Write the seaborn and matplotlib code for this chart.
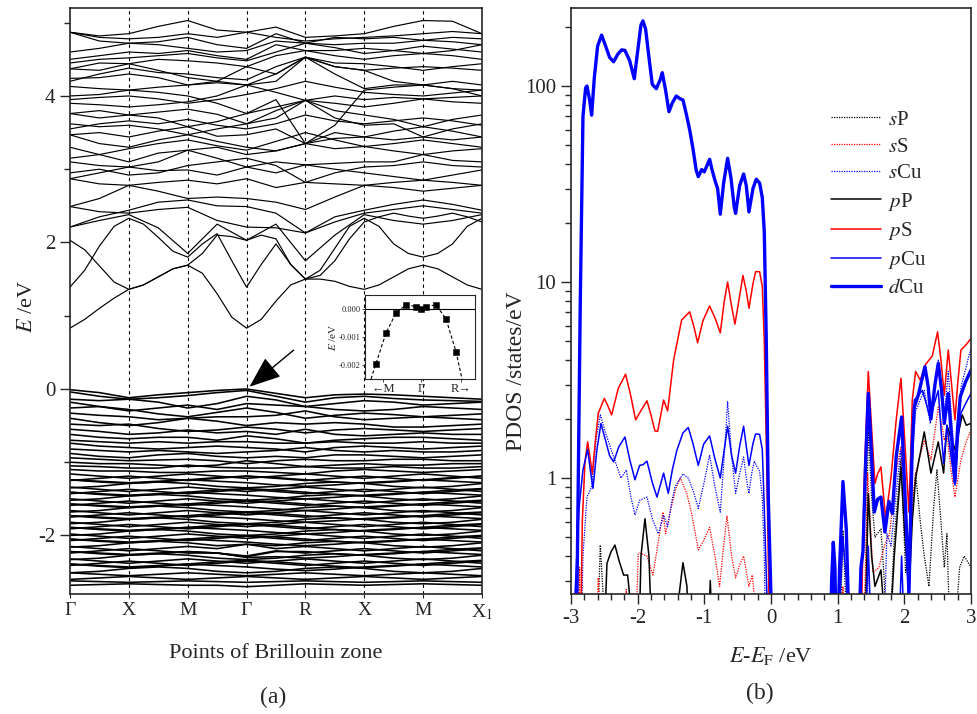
import numpy as np
import pandas as pd
import matplotlib
matplotlib.use("Agg")
import matplotlib.pyplot as plt
import seaborn as sns

sns.set_style("ticks")
plt.rcParams["font.family"] = ["Liberation Serif", "DejaVu Serif"]
plt.rcParams["mathtext.fontset"] = "stix"
plt.rcParams["axes.unicode_minus"] = False

# ---------------- band structure (a) ----------------
k_labels = ["Γ", "X", "M", "Γ", "R", "X", "M", "X$_1$"]
k_path = [0, 0.5, 1, 1.5, 2, 2.5, 3, 3.5, 4, 4.5, 5, 5.5, 6, 6.5, 7]
k_fine = [0, 0.25, 0.5, 0.75, 1, 1.25, 1.5, 1.75, 2, 2.25, 2.5, 2.75, 3, 3.25, 3.5, 3.75,
          4, 4.25, 4.5, 4.75, 5, 5.25, 5.5, 5.75, 6, 6.25, 6.5, 6.75, 7]

# lowest conduction bands, read on the finer k grid
low_conduction_bands = [
    [0.83, 0.95, 1.10, 1.24, 1.36, 1.42, 1.53, 1.64, 1.69, 1.58, 1.30, 0.98, 0.83, 0.95, 1.20,
     1.42, 1.50, 1.50, 1.47, 1.40, 1.36, 1.42, 1.53, 1.64, 1.69, 1.64, 1.53, 1.42, 1.36],
    [1.39, 1.62, 1.95, 2.22, 2.33, 2.25, 2.07, 1.88, 1.80, 1.98, 2.12, 1.75, 1.39, 1.70, 1.98,
     1.70, 1.50, 1.62, 1.92, 2.22, 2.33, 2.22, 1.98, 1.85, 1.80, 1.85, 1.98, 2.22, 2.33],
    [2.03, 1.90, 1.68, 1.46, 1.36, 1.42, 1.53, 1.64, 1.69, 1.85, 2.10, 2.08, 2.03, 2.10, 2.05,
     1.70, 1.50, 1.55, 1.75, 2.05, 2.28, 2.35, 2.40, 2.36, 2.33, 2.36, 2.40, 2.35, 2.28],
]

# energies (eV) read at the 15 k positions along Γ-X-M-Γ-R-X-M-X1
conduction_bands = [
    [2.21, 2.30, 2.38, 2.20, 1.85, 2.25, 2.03, 2.25, 1.75, 2.10, 2.38, 2.30, 2.25, 2.30, 2.38],
    [2.49, 2.42, 2.40, 2.45, 2.48, 2.30, 2.21, 2.20, 2.13, 2.28, 2.40, 2.45, 2.50, 2.45, 2.40],
    [2.21, 2.35, 2.44, 2.55, 2.58, 2.50, 2.49, 2.40, 2.13, 2.35, 2.44, 2.52, 2.58, 2.52, 2.44],
    [2.49, 2.60, 2.78, 2.70, 2.60, 2.62, 2.60, 2.55, 2.45, 2.62, 2.78, 2.75, 2.70, 2.74, 2.78],
    [2.87, 2.80, 2.78, 2.82, 2.85, 2.80, 2.87, 2.75, 2.82, 2.80, 2.78, 2.82, 2.85, 2.82, 2.78],
    [2.95, 3.00, 2.92, 2.95, 3.05, 3.10, 3.15, 3.05, 2.82, 2.95, 3.03, 3.05, 3.10, 3.05, 3.03],
    [2.87, 2.95, 3.03, 2.98, 2.99, 2.92, 3.03, 2.95, 3.06, 3.00, 2.95, 2.90, 2.85, 2.92, 2.99],
    [3.10, 3.05, 3.03, 3.10, 3.26, 3.15, 3.03, 3.10, 3.06, 3.08, 3.10, 3.10, 3.20, 3.12, 3.10],
    [3.15, 3.20, 3.28, 3.35, 3.40, 3.32, 3.26, 3.38, 3.50, 3.40, 3.31, 3.35, 3.40, 3.35, 3.30],
    [3.30, 3.20, 3.10, 3.22, 3.26, 3.30, 3.20, 3.25, 3.35, 3.28, 3.31, 3.25, 3.20, 3.25, 3.28],
    [3.47, 3.35, 3.30, 3.40, 3.47, 3.38, 3.30, 3.25, 3.35, 3.42, 3.44, 3.40, 3.44, 3.40, 3.44],
    [3.47, 3.50, 3.44, 3.52, 3.58, 3.45, 3.47, 3.55, 3.35, 3.50, 3.44, 3.52, 3.58, 3.52, 3.44],
    [3.55, 3.62, 3.66, 3.62, 3.68, 3.60, 3.55, 3.62, 3.74, 3.66, 3.62, 3.66, 3.70, 3.66, 3.60],
    [3.62, 3.58, 3.60, 3.55, 3.47, 3.55, 3.62, 3.70, 3.94, 3.70, 3.60, 3.62, 3.44, 3.55, 3.62],
    [3.76, 3.70, 3.74, 3.70, 3.58, 3.65, 3.76, 3.85, 3.94, 3.80, 3.74, 3.68, 3.58, 3.68, 3.74],
    [3.76, 3.80, 3.74, 3.78, 3.82, 3.75, 3.62, 3.80, 3.94, 3.90, 3.85, 3.90, 3.96, 3.92, 3.90],
    [3.90, 3.88, 3.85, 3.88, 3.92, 4.00, 4.15, 4.05, 3.94, 4.00, 3.95, 3.98, 3.96, 3.98, 4.00],
    [3.95, 3.98, 4.00, 3.96, 3.90, 3.95, 4.02, 4.10, 4.20, 4.12, 4.05, 4.02, 4.00, 4.04, 4.08],
    [4.00, 4.02, 4.08, 4.05, 4.00, 3.90, 3.76, 3.95, 3.35, 3.60, 4.08, 4.12, 4.15, 4.10, 4.08],
    [4.13, 4.10, 4.08, 4.12, 4.15, 4.18, 4.15, 4.20, 4.53, 4.40, 4.35, 4.20, 4.15, 4.20, 4.15],
    [4.20, 4.30, 4.38, 4.32, 4.30, 4.25, 4.22, 4.40, 4.53, 4.45, 4.44, 4.40, 4.35, 4.40, 4.44],
    [4.24, 4.25, 4.30, 4.25, 4.15, 4.20, 4.15, 4.30, 4.53, 4.30, 4.10, 4.15, 4.15, 4.10, 4.00],
    [4.37, 4.35, 4.44, 4.35, 4.25, 4.20, 4.40, 4.30, 4.53, 4.40, 4.35, 4.38, 4.40, 4.38, 4.35],
    [4.37, 4.45, 4.44, 4.50, 4.48, 4.45, 4.40, 4.55, 4.62, 4.55, 4.50, 4.55, 4.58, 4.55, 4.50],
    [4.45, 4.50, 4.52, 4.55, 4.58, 4.52, 4.48, 4.60, 4.72, 4.66, 4.58, 4.62, 4.68, 4.64, 4.60],
    [4.50, 4.55, 4.60, 4.58, 4.62, 4.55, 4.50, 4.70, 4.62, 4.62, 4.65, 4.62, 4.58, 4.62, 4.70],
    [4.60, 4.65, 4.72, 4.70, 4.65, 4.60, 4.62, 4.75, 4.72, 4.70, 4.72, 4.72, 4.76, 4.74, 4.70],
    [4.87, 4.75, 4.72, 4.74, 4.80, 4.70, 4.65, 4.85, 4.72, 4.80, 4.78, 4.80, 4.76, 4.80, 4.78],
    [4.87, 4.82, 4.85, 4.95, 5.03, 4.90, 4.87, 4.94, 4.80, 4.82, 4.85, 4.95, 5.03, 5.02, 4.85],
    [4.87, 4.80, 4.78, 4.80, 4.85, 4.80, 4.87, 4.80, 4.75, 4.78, 4.80, 4.82, 4.85, 4.88, 4.85],
]

valence_bands = [
    [-0.01, -0.05, -0.12, -0.08, -0.05, -0.02, 0.00, -0.06, -0.12, -0.08, -0.07, -0.08, -0.10, -0.12, -0.14],
    [-0.04, -0.10, -0.14, -0.12, -0.09, -0.05, -0.02, -0.10, -0.18, -0.12, -0.10, -0.13, -0.15, -0.16, -0.17],
    [-0.14, -0.16, -0.14, -0.18, -0.26, -0.20, -0.10, -0.15, -0.24, -0.20, -0.16, -0.18, -0.22, -0.20, -0.18],
    [-0.18, -0.24, -0.30, -0.26, -0.22, -0.28, -0.20, -0.22, -0.24, -0.28, -0.30, -0.28, -0.24, -0.26, -0.28],
    [-0.26, -0.24, -0.28, -0.34, -0.38, -0.32, -0.26, -0.32, -0.40, -0.36, -0.33, -0.35, -0.38, -0.36, -0.34],
    [-0.33, -0.36, -0.38, -0.42, -0.40, -0.38, -0.38, -0.36, -0.30, -0.38, -0.42, -0.40, -0.38, -0.40, -0.42],
    [-0.40, -0.46, -0.50, -0.46, -0.40, -0.44, -0.50, -0.46, -0.48, -0.46, -0.48, -0.52, -0.52, -0.50, -0.48],
    [-0.48, -0.50, -0.48, -0.54, -0.58, -0.56, -0.52, -0.55, -0.60, -0.56, -0.54, -0.56, -0.58, -0.56, -0.54],
    [-0.55, -0.58, -0.62, -0.60, -0.56, -0.60, -0.58, -0.62, -0.55, -0.62, -0.64, -0.62, -0.60, -0.62, -0.62],
    [-0.62, -0.66, -0.68, -0.66, -0.66, -0.70, -0.64, -0.68, -0.74, -0.70, -0.68, -0.66, -0.66, -0.68, -0.70],
    [-0.70, -0.72, -0.74, -0.72, -0.74, -0.72, -0.72, -0.74, -0.74, -0.72, -0.74, -0.74, -0.72, -0.74, -0.74],
    [-0.74, -0.78, -0.80, -0.82, -0.80, -0.78, -0.80, -0.82, -0.86, -0.80, -0.78, -0.80, -0.82, -0.80, -0.78],
    [-0.82, -0.84, -0.86, -0.84, -0.86, -0.88, -0.86, -0.84, -0.80, -0.84, -0.86, -0.84, -0.86, -0.86, -0.84],
    [-0.88, -0.92, -0.94, -0.90, -0.88, -0.92, -0.94, -0.92, -0.94, -0.90, -0.90, -0.92, -0.94, -0.92, -0.90],
    [-0.94, -0.96, -0.98, -0.97, -0.96, -0.98, -1.02, -0.98, -0.96, -0.98, -0.98, -0.96, -0.96, -0.98, -0.98],
    [-1.00, -1.02, -1.02, -1.04, -1.06, -1.04, -0.98, -1.02, -1.06, -1.04, -1.02, -1.04, -1.04, -1.02, -1.02],
    [-1.05, -1.06, -1.08, -1.08, -1.04, -1.07, -1.08, -1.08, -1.06, -1.08, -1.08, -1.06, -1.08, -1.08, -1.06],
    [-1.10, -1.12, -1.12, -1.14, -1.14, -1.12, -1.12, -1.14, -1.16, -1.12, -1.10, -1.12, -1.14, -1.12, -1.10],
    # dense part of the valence band
    [-1.16, -1.19, -1.22, -1.19, -1.16, -1.19, -1.22, -1.19, -1.16, -1.19, -1.22, -1.19, -1.16, -1.19, -1.22],
    [-1.25, -1.22, -1.19, -1.22, -1.25, -1.22, -1.19, -1.22, -1.25, -1.22, -1.19, -1.22, -1.25, -1.22, -1.19],
    [-1.24, -1.27, -1.29, -1.27, -1.24, -1.21, -1.19, -1.21, -1.24, -1.27, -1.29, -1.27, -1.24, -1.21, -1.19],
    [-1.24, -1.26, -1.28, -1.26, -1.24, -1.26, -1.28, -1.31, -1.33, -1.31, -1.28, -1.26, -1.24, -1.26, -1.28],
    [-1.35, -1.33, -1.29, -1.27, -1.29, -1.33, -1.35, -1.33, -1.29, -1.27, -1.29, -1.33, -1.35, -1.33, -1.29],
    [-1.34, -1.37, -1.40, -1.37, -1.34, -1.37, -1.40, -1.37, -1.34, -1.37, -1.40, -1.37, -1.34, -1.37, -1.40],
    [-1.43, -1.40, -1.37, -1.40, -1.43, -1.40, -1.37, -1.40, -1.43, -1.40, -1.37, -1.40, -1.43, -1.40, -1.37],
    [-1.41, -1.44, -1.46, -1.44, -1.41, -1.38, -1.36, -1.38, -1.41, -1.44, -1.46, -1.44, -1.41, -1.38, -1.36],
    [-1.41, -1.43, -1.45, -1.43, -1.41, -1.43, -1.45, -1.48, -1.50, -1.48, -1.45, -1.43, -1.41, -1.43, -1.45],
    [-1.52, -1.50, -1.46, -1.44, -1.46, -1.50, -1.52, -1.50, -1.46, -1.44, -1.46, -1.50, -1.52, -1.50, -1.46],
    [-1.50, -1.53, -1.56, -1.53, -1.50, -1.53, -1.56, -1.53, -1.50, -1.53, -1.56, -1.53, -1.50, -1.53, -1.56],
    [-1.59, -1.56, -1.53, -1.56, -1.59, -1.56, -1.53, -1.56, -1.59, -1.56, -1.53, -1.56, -1.59, -1.56, -1.53],
    [-1.57, -1.60, -1.62, -1.60, -1.57, -1.54, -1.52, -1.54, -1.57, -1.60, -1.62, -1.60, -1.57, -1.54, -1.52],
    [-1.57, -1.59, -1.61, -1.59, -1.57, -1.59, -1.61, -1.64, -1.66, -1.64, -1.61, -1.59, -1.57, -1.59, -1.61],
    [-1.68, -1.66, -1.62, -1.60, -1.62, -1.66, -1.68, -1.66, -1.62, -1.60, -1.62, -1.66, -1.68, -1.66, -1.62],
    [-1.66, -1.69, -1.72, -1.69, -1.66, -1.69, -1.72, -1.69, -1.66, -1.69, -1.72, -1.69, -1.66, -1.69, -1.72],
    [-1.75, -1.72, -1.69, -1.72, -1.75, -1.72, -1.69, -1.72, -1.75, -1.72, -1.69, -1.72, -1.75, -1.72, -1.69],
    [-1.73, -1.76, -1.78, -1.76, -1.73, -1.70, -1.68, -1.70, -1.73, -1.76, -1.78, -1.76, -1.73, -1.70, -1.68],
    [-1.73, -1.75, -1.77, -1.75, -1.73, -1.75, -1.77, -1.80, -1.82, -1.80, -1.77, -1.75, -1.73, -1.75, -1.77],
    [-1.84, -1.82, -1.78, -1.76, -1.78, -1.82, -1.84, -1.82, -1.78, -1.76, -1.78, -1.82, -1.84, -1.82, -1.78],
    [-1.82, -1.85, -1.88, -1.85, -1.82, -1.85, -1.88, -1.85, -1.82, -1.85, -1.88, -1.85, -1.82, -1.85, -1.88],
    [-1.91, -1.88, -1.85, -1.88, -1.91, -1.88, -1.85, -1.88, -1.91, -1.88, -1.85, -1.88, -1.91, -1.88, -1.85],
    [-1.89, -1.92, -1.94, -1.92, -1.89, -1.86, -1.84, -1.86, -1.89, -1.92, -1.94, -1.92, -1.89, -1.86, -1.84],
    [-1.89, -1.91, -1.93, -1.91, -1.89, -1.91, -1.93, -1.96, -1.98, -1.96, -1.93, -1.91, -1.89, -1.91, -1.93],
    [-2.00, -1.98, -1.94, -1.92, -1.94, -1.98, -2.00, -1.98, -1.94, -1.92, -1.94, -1.98, -2.00, -1.98, -1.94],
    [-1.98, -2.01, -2.04, -2.01, -1.98, -2.01, -2.04, -2.01, -1.98, -2.01, -2.04, -2.01, -1.98, -2.01, -2.04],
    [-2.07, -2.04, -2.01, -2.04, -2.07, -2.04, -2.01, -2.04, -2.07, -2.04, -2.01, -2.04, -2.07, -2.04, -2.01],
    [-2.05, -2.08, -2.10, -2.08, -2.05, -2.02, -2.00, -2.02, -2.05, -2.08, -2.10, -2.08, -2.05, -2.02, -2.00],
    [-2.05, -2.07, -2.09, -2.07, -2.05, -2.07, -2.09, -2.12, -2.14, -2.12, -2.09, -2.07, -2.05, -2.07, -2.09],
    [-2.16, -2.14, -2.10, -2.08, -2.10, -2.14, -2.12, -2.14, -2.10, -2.08, -2.10, -2.14, -2.16, -2.14, -2.10],
    [-2.15, -2.18, -2.21, -2.18, -2.15, -2.18, -2.12, -2.18, -2.15, -2.18, -2.21, -2.18, -2.15, -2.18, -2.21],
    [-2.24, -2.21, -2.18, -2.21, -2.24, -2.24, -2.28, -2.21, -2.24, -2.21, -2.18, -2.21, -2.24, -2.21, -2.18],
    [-2.22, -2.25, -2.27, -2.25, -2.22, -2.24, -2.29, -2.22, -2.22, -2.25, -2.27, -2.25, -2.22, -2.19, -2.17],
    [-2.22, -2.24, -2.26, -2.24, -2.22, -2.24, -2.30, -2.29, -2.31, -2.29, -2.26, -2.24, -2.22, -2.24, -2.26],
    [-2.33, -2.31, -2.27, -2.25, -2.27, -2.31, -2.33, -2.31, -2.27, -2.25, -2.27, -2.31, -2.33, -2.31, -2.27],
    [-2.32, -2.35, -2.38, -2.35, -2.32, -2.35, -2.38, -2.35, -2.32, -2.35, -2.38, -2.35, -2.32, -2.35, -2.38],
    [-2.41, -2.38, -2.35, -2.38, -2.41, -2.38, -2.35, -2.38, -2.41, -2.38, -2.35, -2.38, -2.41, -2.38, -2.35],
    [-2.39, -2.42, -2.44, -2.42, -2.39, -2.36, -2.34, -2.36, -2.39, -2.42, -2.44, -2.42, -2.39, -2.36, -2.34],
    [-2.39, -2.41, -2.43, -2.41, -2.39, -2.41, -2.43, -2.46, -2.48, -2.46, -2.43, -2.41, -2.39, -2.41, -2.43],
    [-2.51, -2.49, -2.45, -2.43, -2.45, -2.49, -2.51, -2.49, -2.45, -2.43, -2.45, -2.49, -2.51, -2.49, -2.45],
    [-2.51, -2.53, -2.55, -2.53, -2.51, -2.53, -2.55, -2.53, -2.51, -2.53, -2.55, -2.53, -2.51, -2.53, -2.55],
    [-2.60, -2.58, -2.56, -2.58, -2.60, -2.58, -2.56, -2.58, -2.60, -2.58, -2.56, -2.58, -2.60, -2.58, -2.56],
    [-2.62, -2.63, -2.64, -2.63, -2.62, -2.63, -2.64, -2.63, -2.62, -2.63, -2.64, -2.63, -2.62, -2.63, -2.64],
    [-2.68, -2.67, -2.66, -2.67, -2.68, -2.68, -2.70, -2.68, -2.66, -2.67, -2.68, -2.67, -2.66, -2.67, -2.68],
]

# inset: top of valence band around Γ
inset_k = [-4.5, -3.5, -2.5, -1.5, -0.5, 0.0, 0.5, 1.5, 2.5, 3.5]
inset_E = [-0.00195, -0.00086, -0.00015, 0.00014, 0.00008, -0.00002, 0.00008, 0.00014, -0.00036, -0.00153]
inset_line_k = [-5.0] + inset_k + [4.1]
inset_line_E = [-0.0025] + inset_E + [-0.0025]

# ---------------- PDOS (b) ----------------
# 0.1 marks values that fall below the bottom of the log axis
sP_E = [-3.0, -2.62, -2.56, -2.50, -2.47, 1.02, 1.08, 1.13, 1.16, 1.40, 1.46, 1.51, 1.56, 1.65, 1.70, 1.75, 1.85,
        1.95, 2.02, 2.08, 2.17, 2.24, 2.30, 2.37, 2.44, 2.49, 2.55, 2.60, 2.64, 2.70, 2.78, 2.83, 2.90, 3.0]
sP_v = [0.1, 0.1, 0.455, 0.2, 0.1, 0.1, 0.54, 0.2, 0.1, 0.1, 1.83, 0.8, 0.5, 0.55, 0.3, 0.1, 0.5,
        1.24, 0.33, 0.5, 1.06, 0.6, 0.4, 0.28, 0.7, 1.1, 0.6, 0.35, 0.52, 0.1, 0.2, 0.35, 0.4, 0.35]

sS_E = [-3.0, -2.90, -2.87, -2.84, -2.64, -2.59, -2.54, -2.20, -2.17, -2.13, -2.05, -1.99, -1.97, -1.86, -1.77,
        -1.70, -1.62, -1.58, -1.50, -1.42, -1.36, -1.26, -1.19, -1.09, -1.01, -0.92, -0.84, -0.77, -0.71, -0.66,
        -0.59, -0.53, -0.47, -0.41, -0.33, -0.28, -0.22, -0.18, 1.02, 1.08, 1.12, 1.38, 1.45, 1.49, 1.53, 1.62,
        1.70, 1.78, 1.88, 1.95, 2.01, 2.07, 2.12, 2.17, 2.30, 2.40, 2.51, 2.56, 2.60, 2.64, 2.70, 2.76, 2.85,
        2.92, 3.0]
sS_v = [0.1, 0.1, 0.35, 0.1, 0.1, 0.31, 0.1, 0.1, 0.27, 0.1, 0.1, 0.41, 0.415, 0.40, 0.32,
        0.45, 0.67, 0.52, 0.70, 0.9, 1.0, 0.83, 0.66, 0.43, 0.48, 0.56, 0.40, 0.28, 0.45, 0.64,
        0.40, 0.31, 0.36, 0.40, 0.28, 0.32, 0.2, 0.1, 0.1, 0.28, 0.1, 0.1, 1.06, 0.6, 0.33, 0.35,
        0.45, 0.52, 1.1, 1.44, 0.7, 0.35, 0.7, 1.06, 1.56, 1.24, 2.3, 1.9, 1.56, 1.7, 1.1, 0.80, 1.24,
        1.5, 1.76]

sCu_E = [-3.0, -2.86, -2.82, -2.76, -2.69, -2.62, -2.56, -2.48, -2.41, -2.33, -2.25, -2.17, -2.10, -2.04, -1.97,
         -1.86, -1.78, -1.69, -1.61, -1.55, -1.49, -1.44, -1.32, -1.24, -1.16, -1.09, -1.00, -0.92, -0.84, -0.76,
         -0.70, -0.65, -0.59, -0.53, -0.47, -0.41, -0.37, -0.33, -0.29, -0.25, -0.17, -0.13, -0.10, -0.07,
         1.40, 1.46, 1.52, 1.68, 1.74, 1.80, 1.90, 1.95, 2.01, 2.07, 2.12, 2.17, 2.30, 2.39, 2.45, 2.51, 2.56,
         2.60, 2.66, 2.71, 2.76, 2.80, 2.85, 2.92, 3.0]
sCu_v = [0.1, 0.1, 0.4, 0.8, 0.90, 1.6, 2.1, 1.7, 1.44, 1.2, 1.0, 1.10, 0.8, 0.647, 0.77,
         0.80, 0.62, 0.52, 0.647, 0.565, 0.75, 0.90, 1.05, 1.0, 0.85, 0.70, 0.96, 1.31, 0.9, 0.67,
         1.3, 2.45, 1.3, 0.835, 1.05, 1.28, 1.0, 0.835, 1.05, 1.22, 1.08, 0.8, 0.4, 0.1,
         0.1, 0.39, 0.1, 0.1, 0.52, 0.45, 1.0, 1.39, 0.7, 0.42, 1.2, 2.2, 2.8, 1.9, 2.8, 4.0, 2.9,
         2.05, 3.5, 2.0, 1.24, 1.9, 2.9, 3.6, 4.6]

pP_E = [-3.0, -2.52, -2.46, -2.40, -2.34, -2.28, -2.21, -2.15, -2.09, -2.06, -1.99, -1.95, -1.89, -1.83, -1.77,
        -1.42, -1.38, -1.32, -1.26, -1.22, -0.96, -0.91, -0.86, 1.40, 1.46, 1.51, 1.56, 1.65, 1.70, 1.75, 1.85,
        1.95, 2.01, 2.07, 2.12, 2.17, 2.30, 2.40, 2.51, 2.59, 2.64, 2.70, 2.76, 2.87, 2.93, 3.0]
pP_v = [0.1, 0.1, 0.367, 0.42, 0.455, 0.38, 0.32, 0.32, 0.2, 0.1, 0.1, 0.4, 0.62, 0.4, 0.1,
        0.1, 0.25, 0.37, 0.28, 0.1, 0.1, 0.30, 0.1, 0.1, 0.835, 0.4, 0.28, 0.34, 0.2, 0.1, 0.4,
        1.14, 0.5, 0.26, 0.6, 1.0, 1.72, 1.06, 1.53, 1.06, 1.86, 1.6, 1.4, 2.1, 1.86, 1.9]

pS_E = [-3.0, -2.86, -2.83, -2.79, -2.75, -2.71, -2.68, -2.63, -2.59, -2.50, -2.45, -2.39, -2.29, -2.18, -2.10,
        -2.03, -1.96, -1.86, -1.80, -1.74, -1.70, -1.61, -1.55, -1.46, -1.34, -1.22, -1.16, -1.10, -1.02, -0.92,
        -0.83, -0.76, -0.70, -0.65, -0.59, -0.54, -0.47, -0.42, -0.37, -0.33, -0.27, -0.23, -0.17, -0.13, -0.10,
        -0.06, -0.03, 0.0, 0.89, 0.93, 0.97, 1.04, 1.08, 1.13, 1.18, 1.34, 1.40, 1.46, 1.51, 1.56, 1.60, 1.65,
        1.72, 1.80, 1.88, 1.95, 2.01, 2.07, 2.12, 2.17, 2.24, 2.32, 2.42, 2.50, 2.55, 2.60, 2.66, 2.71, 2.76,
        2.80, 2.85, 2.93, 3.0]
pS_v = [0.1, 0.1, 0.6, 1.2, 1.53, 1.25, 1.05, 1.6, 2.14, 2.55, 2.35, 2.1, 2.87, 3.39, 2.6,
        1.98, 2.18, 2.48, 2.1, 1.74, 1.73, 2.5, 2.2, 4.0, 6.4, 7.05, 6.0, 4.9, 6.35, 7.55,
        6.45, 5.5, 8.0, 10.0, 7.5, 6.1, 8.5, 10.8, 9.0, 7.35, 9.8, 11.3, 11.3, 9.5, 5.0,
        1.0, 0.25, 0.1, 0.1, 0.38, 0.1, 0.4, 0.9, 0.5, 0.1, 0.1, 1.0, 3.5, 1.8, 0.94, 1.05, 1.14,
        0.62, 1.0, 2.0, 3.23, 1.5, 0.67, 2.5, 3.5, 3.16, 3.8, 4.2, 5.57, 4.0, 2.65, 4.5, 3.0, 1.98,
        3.0, 4.5, 4.8, 5.15]

pCu_E = [-3.0, -2.94, -2.88, -2.82, -2.75, -2.71, -2.67, -2.61, -2.55, -2.48, -2.42, -2.36, -2.28, -2.19, -2.12,
         -2.04, -1.97, -1.92, -1.86, -1.78, -1.71, -1.66, -1.61, -1.54, -1.48, -1.41, -1.32, -1.24, -1.17, -1.09,
         -1.01, -0.92, -0.84, -0.76, -0.70, -0.65, -0.59, -0.53, -0.47, -0.41, -0.37, -0.33, -0.27, -0.23, -0.17,
         -0.13, -0.10, -0.06, -0.04, 0.90, 0.935, 0.97, 1.05, 1.08, 1.13, 1.17, 1.40, 1.46, 1.52, 1.90, 1.96,
         2.02, 2.10, 2.15, 2.27, 2.33, 2.39, 2.45, 2.51, 2.55, 2.59, 2.64, 2.70, 2.76, 2.80, 2.85, 2.92, 3.0]
pCu_v = [0.1, 0.25, 0.7, 1.1, 1.40, 1.1, 0.886, 1.4, 1.90, 1.55, 1.3, 1.21, 1.45, 1.62, 1.25,
         0.98, 1.16, 1.17, 1.22, 0.95, 0.80, 0.92, 1.06, 0.835, 1.1, 1.39, 1.7, 1.81, 1.5, 1.16,
         1.49, 1.64, 1.25, 1.0, 1.4, 1.84, 1.3, 1.06, 1.45, 1.84, 1.45, 1.16, 1.5, 1.68, 1.67,
         1.4, 0.7, 0.25, 0.1, 0.1, 0.3, 0.1, 0.3, 0.5, 0.3, 0.1, 0.1, 0.45, 0.1, 0.1, 0.40,
         0.1, 0.8, 2.5, 2.8, 2.4, 2.0, 2.4, 2.8, 1.8, 1.19, 1.86, 1.3, 0.92, 1.5, 2.14, 2.4, 2.7]

dCu_E = [-3.0, -2.91, -2.86, -2.82, -2.78, -2.76, -2.72, -2.69, -2.65, -2.60, -2.54, -2.48, -2.42, -2.36, -2.30,
         -2.24, -2.19, -2.12, -2.05, -2.00, -1.95, -1.92, -1.88, -1.83, -1.78, -1.72, -1.66, -1.63, -1.58, -1.53,
         -1.48, -1.42, -1.36, -1.32, -1.27, -1.22, -1.17, -1.12, -1.09, -1.04, -1.00, -0.95, -0.92, -0.88, -0.84,
         -0.80, -0.76, -0.71, -0.65, -0.60, -0.55, -0.53, -0.47, -0.41, -0.37, -0.33, -0.27, -0.22, -0.17, -0.13,
         -0.10, -0.07, -0.04, 0.0, 0.02, 0.88, 0.91, 0.935, 0.96, 0.985, 1.03, 1.08, 1.13, 1.19, 1.30, 1.35,
         1.38, 1.42, 1.46, 1.50, 1.55, 1.60, 1.65, 1.71, 1.77, 1.82, 1.88, 1.96, 2.02, 2.07, 2.12, 2.15, 2.21,
         2.31, 2.36, 2.40, 2.46, 2.51, 2.56, 2.60, 2.66, 2.71, 2.76, 2.80, 2.84, 2.92, 3.0]
dCu_v = [0.1, 0.25, 8, 70, 98, 100, 85, 71, 110, 160, 182, 160, 140, 133, 145,
         153, 152, 135, 109, 150, 205, 215, 195, 140, 102, 97, 108, 117, 95, 74,
         82, 89, 86, 85, 72, 60, 48, 37, 34.5, 37.5, 36.5, 40, 42.3, 37, 33,
         30, 22.2, 32, 42.8, 34, 24, 22.4, 31, 35.6, 31, 22.8, 30, 33.5, 32, 27,
         18, 5, 0.8, 0.25, 0.1, 0.1, 0.3, 0.47, 0.35, 0.1, 0.35, 0.96, 0.55, 0.1, 0.1, 0.35,
         0.42, 1.2, 2.7, 1.5, 0.67, 0.78, 0.80, 0.53, 0.76, 0.66, 1.3, 2.05, 0.7, 0.26, 1.5, 2.3, 2.65,
         3.7, 2.9, 2.0, 3.0, 3.85, 2.8, 1.9, 2.7, 1.6, 0.96, 1.8, 2.6, 3.1, 3.55]

pdos_series = [
    ("$s$P", sP_E, sP_v, "black", 0.9, (0, (1, 1))),
    ("$s$S", sS_E, sS_v, "red", 0.9, (0, (1, 1))),
    ("$s$Cu", sCu_E, sCu_v, "blue", 0.9, (0, (1, 1))),
    ("$p$P", pP_E, pP_v, "black", 1.1, "-"),
    ("$p$S", pS_E, pS_v, "red", 1.1, "-"),
    ("$p$Cu", pCu_E, pCu_v, "blue", 1.1, "-"),
    ("$d$Cu", dCu_E, dCu_v, "blue", 2.4, "-"),
]

# ---------------- figure ----------------
fig = plt.figure(figsize=(9.77, 7.14), dpi=100)
ax1 = fig.add_axes([0.0716, 0.168, 0.4217, 0.8207])
ax2 = fig.add_axes([0.5844, 0.168, 0.4094, 0.8207])


def bands_frame(band_list, kpts, start):
    rows = []
    for i, band in enumerate(band_list):
        for k, e in zip(kpts, band):
            rows.append((start + i, k, e))
    return pd.DataFrame(rows, columns=["band", "k", "E"])


cond_df = pd.concat([bands_frame(low_conduction_bands, k_fine, 0),
                     bands_frame(conduction_bands, k_path, 100)])
val_df = bands_frame(valence_bands, k_path, 200)
sns.lineplot(data=cond_df, x="k", y="E", units="band", estimator=None, sort=False,
             color="black", lw=0.85, ax=ax1, legend=False)
sns.lineplot(data=val_df, x="k", y="E", units="band", estimator=None, sort=False,
             color="black", lw=1.15, ax=ax1, legend=False)

for k in range(1, 7):
    ax1.axvline(k, color="black", ls=(0, (3, 3)), lw=0.8)

ax1.set_xlim(0, 7)
ax1.set_ylim(-2.8, 5.2)
ax1.set_xticks(range(8))
ax1.set_xticklabels(k_labels, fontsize=14)
ax1.set_yticks([-2, 0, 2, 4])
ax1.set_yticks([-1, 1, 3, 5], minor=True)
ax1.tick_params(axis="y", which="major", length=7, width=1, labelsize=15, direction="out")
ax1.tick_params(axis="y", which="minor", length=4, width=1, direction="out")
ax1.tick_params(axis="x", length=3, width=0.8, direction="out", pad=3)
ax1.set_xlabel("Points of Brillouin zone", fontsize=16, labelpad=16)
ax1.set_ylabel("$E$ /eV", fontsize=16)
ax1.yaxis.set_label_coords(-0.08, 0.49)
for sp in ax1.spines.values():
    sp.set_linewidth(1.2)

ax1.annotate("", xy=(3.05, 0.03), xytext=(3.8, 0.53),
             arrowprops=dict(arrowstyle="-|>,head_length=0.9,head_width=0.35", color="black",
                             lw=1.0, mutation_scale=22, shrinkA=0, shrinkB=0))

# inset
axin = fig.add_axes([0.3736, 0.4692, 0.1126, 0.1176])
sns.lineplot(x=inset_line_k, y=inset_line_E, sort=False, color="black", lw=0.8,
             linestyle=(0, (3, 2)), ax=axin)
sns.scatterplot(x=inset_k, y=inset_E, marker="s", s=22, color="black", edgecolor="black", ax=axin)
axin.axhline(0, color="black", lw=0.8)
axin.set_xlim(-5.6, 5.4)
axin.set_ylim(-0.0025, 0.00049)
axin.set_yticks([0.0, -0.001, -0.002])
axin.set_yticklabels(["0.000", "-0.001", "-0.002"], fontsize=6)
axin.set_xticks([-3.8, 0, 4.0])
axin.set_xticklabels(["←M", "Γ", "R→"], fontsize=9)
axin.tick_params(axis="both", length=2, width=0.6, pad=1)
axin.set_ylabel("$E$ /eV", fontsize=8, labelpad=1)
for sp in axin.spines.values():
    sp.set_linewidth(0.8)

# PDOS panel
ax2.set_yscale("log")
for name, e, v, col, lw, ls in pdos_series:
    sns.lineplot(x=e, y=v, sort=False, color=col, lw=lw, linestyle=ls, label=name, ax=ax2)
ax2.set_xlim(-3, 3)
ax2.set_ylim(0.256, 250)
ax2.set_xticks(range(-3, 4))
ax2.set_xticks(np.arange(-3, 3.01, 0.2), minor=True)
ax2.set_yticks([1, 10, 100])
ax2.set_yticklabels(["1", "10", "100"])
ax2.tick_params(axis="both", which="major", length=7, width=1, labelsize=15, direction="out")
ax2.tick_params(axis="both", which="minor", length=4, width=1, direction="out")
ax2.tick_params(axis="x", which="major", pad=4)
ax2.set_xlabel("$E$-$E_\\mathrm{F}$ /eV", fontsize=16, labelpad=12)
ax2.set_ylabel("PDOS /states/eV", fontsize=17)
ax2.yaxis.set_label_coords(-0.11, 0.38)
for sp in ax2.spines.values():
    sp.set_linewidth(1.2)
ax2.legend(loc="upper left", bbox_to_anchor=(0.63, 0.84), frameon=False, fontsize=15,
           handlelength=2.4, labelspacing=0.35, handletextpad=0.3, borderaxespad=0)

fig.text(0.28, 1 - 697 / 714, "(a)", ha="center", va="center", fontsize=17)
fig.text(0.778, 1 - 693 / 714, "(b)", ha="center", va="center", fontsize=17)

fig.savefig("out.png", dpi=100)
